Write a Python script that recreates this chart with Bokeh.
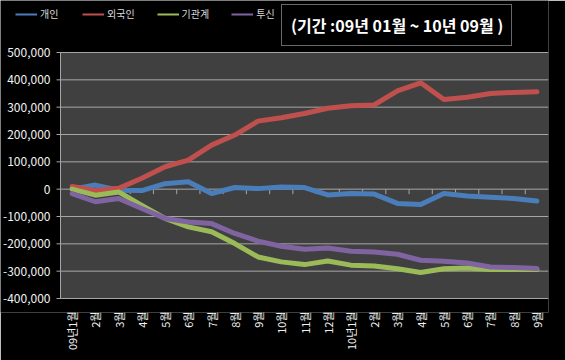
import math
from bokeh.plotting import figure
from bokeh.models import (ColumnDataSource, FixedTicker, Legend, LegendItem, Range1d,
                          BoxAnnotation)
from bokeh.core.properties import value
from bokeh.embed import file_html
from bokeh.resources import INLINE

months = ["09년1월", "2월", "3월", "4월", "5월", "6월", "7월", "8월", "9월", "10월",
          "11월", "12월", "10년1월", "2월", "3월", "4월", "5월", "6월", "7월", "8월", "9월"]
individual = [0, 15000, -4000, -5000, 20000, 27000, -16000, 6000, 2000, 8000, 6000,
              -21000, -16000, -18000, -52000, -56000, -16000, -25000, -30000, -34000, -43000]
foreign = [10000, -5000, 3000, 40000, 82000, 106000, 161000, 198000, 249000, 261000, 277000,
           296000, 305000, 308000, 360000, 389000, 328000, 336000, 350000, 354000, 356000]
institution = [0, -22000, -10000, -59000, -107000, -138000, -156000, -199000, -248000, -266000,
               -276000, -263000, -278000, -281000, -291000, -305000, -291000, -288000, -294000,
               -294000, -294000]
trust = [-16000, -46000, -34000, -71000, -107000, -120000, -126000, -162000, -190000, -209000,
         -220000, -215000, -227000, -230000, -238000, -260000, -264000, -270000, -285000,
         -287000, -290000]
series_names = ["개인", "외국인", "기관계", "투신"]
series_values = [individual, foreign, institution, trust]
colors = ["#4A7EBB", "#C0504D", "#9BBB59", "#8064A2"]
y_ticks = list(range(-400000, 500001, 100000))
y_tick_labels = [f"{v:,}" for v in y_ticks]
period_text = "(기간 :09년 01월 ~ 10년 09월 )"

KFONT = "Noto Sans CJK KR"
n = len(months)
xs = list(range(n))

# layout (pixels): plot area inside a frame that fills the canvas top/left
W, H = 565, 360
AREA_L, AREA_R, AREA_T, AREA_B = 60, 548, 52, 298
FRAME_B = 312
x_lo, x_hi = -0.5, n - 0.5
ppu_x = (AREA_R - AREA_L) / (x_hi - x_lo)
ppu_y = (AREA_B - AREA_T) / (y_ticks[-1] - y_ticks[0])
x_start = x_lo - AREA_L / ppu_x
y_end = y_ticks[-1] + AREA_T / ppu_y
y_start = y_ticks[0] - (FRAME_B - AREA_B) / ppu_y

p = figure(width=W, height=H, output_backend="svg", toolbar_location=None,
           x_range=Range1d(x_start, x_hi), y_range=Range1d(y_start, y_end),
           background_fill_color="black", border_fill_color="black",
           outline_line_color=None,
           min_border_left=0, min_border_right=W - AREA_R, min_border_top=0,
           min_border_bottom=H - FRAME_B)

p.yaxis.visible = False
p.xgrid.grid_line_color = None
p.ygrid.grid_line_color = None

# x axis
p.xaxis.ticker = FixedTicker(ticks=xs)
p.xaxis.major_label_overrides = {i: m for i, m in enumerate(months)}
p.xaxis.major_label_orientation = math.pi / 2
p.xaxis.major_label_text_font = KFONT
p.xaxis.major_label_text_font_size = "11px"
p.xaxis.major_label_text_color = "#F2F2F2"
p.xaxis.axis_line_color = None
p.xaxis.major_tick_line_color = None
p.xaxis.major_tick_out = 0
p.xaxis.major_tick_in = 0
p.xaxis.minor_tick_line_color = None
p.xaxis.major_label_standoff = 13 - (FRAME_B - AREA_B)

# plot area
p.add_layout(BoxAnnotation(left=x_lo, right=x_hi, bottom=y_ticks[0], top=y_ticks[-1],
                           fill_color="#404040", fill_alpha=1, line_color=None,
                           level="underlay"))

# gridlines with small outward ticks, and y-axis line
tick_len = 4 / ppu_x
p.segment(x0=[x_lo - tick_len] * len(y_ticks), x1=[x_hi] * len(y_ticks),
          y0=y_ticks, y1=y_ticks, line_color="#A6A6A6", line_width=1)
p.segment(x0=[x_lo], x1=[x_lo], y0=[y_ticks[0]], y1=[y_ticks[-1]],
          line_color="#A6A6A6", line_width=1)

# y tick labels
p.text(x=[x_lo] * len(y_ticks), y=y_ticks, text=y_tick_labels, x_offset=-10,
       text_align="right", text_baseline="middle", text_font=value(KFONT),
       text_font_size="12px", text_color="#F2F2F2")

# category tick marks on the zero line
tick_x = [i + 0.5 for i in range(n - 1)]
p.segment(x0=tick_x, x1=tick_x, y0=[0] * len(tick_x), y1=[-5 / ppu_y] * len(tick_x),
          line_color="#A6A6A6", line_width=1)

items = []
for name, vals, col in zip(series_names, series_values, colors):
    src = ColumnDataSource(dict(x=xs, y=vals))
    # thin key line (hidden under the thick series line) used for the legend swatch
    key = p.line("x", "y", source=src, line_color=col, line_width=2)
    p.line("x", "y", source=src, line_color=col, line_width=5, line_join="round",
           line_cap="round")
    items.append(LegendItem(label=name, renderers=[key]))

legend = Legend(items=items, orientation="horizontal", location=(15, FRAME_B - 21),
                background_fill_alpha=0, border_line_color=None,
                label_text_font=KFONT, label_text_font_size="10px",
                label_text_color="#D9D9D9", glyph_width=22, glyph_height=10,
                label_standoff=3, spacing=22, padding=0, margin=0,
                label_height=12)
p.add_layout(legend, "center")

# boxed period caption (legend item with an invisible glyph)
dummy = p.line(x=[], y=[], line_alpha=0)
box = Legend(items=[LegendItem(label=period_text, renderers=[dummy])],
             location=(281, FRAME_B - 46), orientation="horizontal",
             background_fill_color="black", background_fill_alpha=1,
             border_line_color="#D0D0D0", border_line_width=1.5,
             label_text_font=KFONT, label_text_font_size="16px",
             label_text_font_style="bold", label_text_color="white",
             glyph_width=1, glyph_height=1, label_standoff=0,
             padding=8, margin=0, label_height=23, spacing=0)
p.add_layout(box, "center")

open("out.html", "w").write(file_html(p, INLINE))
